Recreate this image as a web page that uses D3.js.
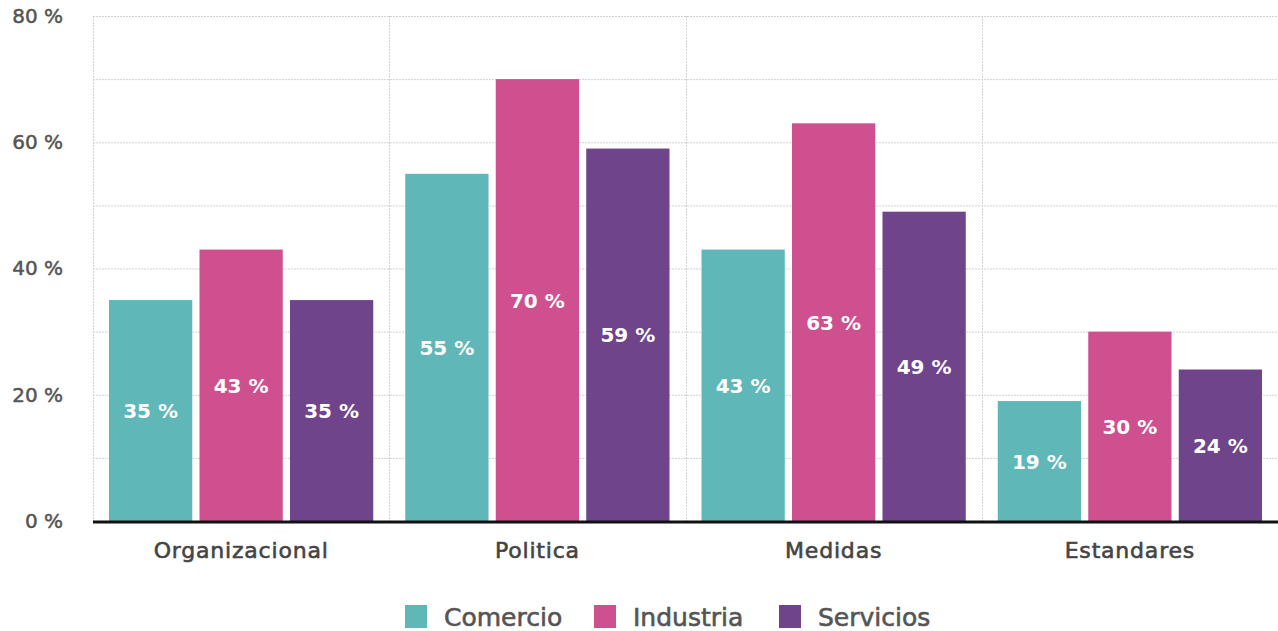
<!DOCTYPE html>
<html>
<head>
<meta charset="utf-8">
<script src="https://cdn.jsdelivr.net/npm/d3@7"></script>
<style>
  html, body { margin: 0; padding: 0; background: #fff; }
  svg { display: block; font-family: "DejaVu Sans", sans-serif; }
</style>
</head>
<body>
<svg id="chart" width="1278" height="631"></svg>
<script>
// Categories, series and values (percent)
const categories = ["Organizacional", "Politica", "Medidas", "Estandares"];
const seriesNames = ["Comercio", "Industria", "Servicios"];
const comercio = [35, 55, 43, 19];
const industria = [43, 70, 63, 30];
const servicios = [35, 59, 49, 24];
const yTicks = [0, 20, 40, 60, 80];
const yGrid = [10, 20, 30, 40, 50, 60, 70, 80];
const colors = ["#60b7b8", "#cf508f", "#70448b"];

const seriesValues = [comercio, industria, servicios];
const rows = categories.map((c, i) => ({
  category: c,
  values: seriesNames.map((s, j) => ({ series: s, value: seriesValues[j][i] }))
}));

const svg = d3.select("#chart");
const margin = { top: 16, right: 0, bottom: 110, left: 93 };
const W = 1278, H = 631;
const innerW = W - margin.left - margin.right;
const innerH = H - margin.top - margin.bottom;

const g = svg.append("g").attr("transform", `translate(${margin.left},${margin.top})`);

const x0 = d3.scaleBand().domain(categories).range([0, innerW]).paddingInner(0).paddingOuter(0);
const x1 = d3.scaleBand().domain(seriesNames).range([16, x0.bandwidth() - 16]).paddingInner(0.08);
const y = d3.scaleLinear().domain([0, 80]).range([innerH, 0]);
const color = d3.scaleOrdinal().domain(seriesNames).range(colors);

// Horizontal dotted grid
g.append("g").selectAll("line").data(yGrid).join("line")
  .attr("x1", 0).attr("x2", innerW)
  .attr("y1", d => y(d) + 0.5).attr("y2", d => y(d) + 0.5)
  .attr("stroke", "#d2d2d2").attr("stroke-width", 1).attr("stroke-dasharray", "2,1");

// Vertical dotted grid at category boundaries
g.append("g").selectAll("line").data(categories).join("line")
  .attr("x1", d => Math.round(x0(d)) + 0.5).attr("x2", d => Math.round(x0(d)) + 0.5)
  .attr("y1", 0).attr("y2", innerH)
  .attr("stroke", "#d2d2d2").attr("stroke-width", 1).attr("stroke-dasharray", "2,1");

// Y axis tick labels
const yAxis = d3.axisLeft(y).tickValues(yTicks).tickSize(0).tickPadding(30).tickFormat(d => d + " %");
g.append("g").call(yAxis)
  .call(s => s.select(".domain").remove())
  .selectAll("text")
  .attr("fill", "#555").attr("stroke", "#555").attr("stroke-width", 0.5)
  .attr("font-family", "DejaVu Sans").attr("font-size", 20);

// Bars
const groups = g.append("g").selectAll("g").data(rows).join("g")
  .attr("transform", d => `translate(${x0(d.category)},0)`);

groups.selectAll("rect").data(d => d.values).join("rect")
  .attr("x", d => x1(d.series))
  .attr("width", x1.bandwidth())
  .attr("y", d => y(d.value))
  .attr("height", d => y(0) - y(d.value))
  .attr("fill", d => color(d.series));

// Value labels centred in each bar
groups.selectAll("text").data(d => d.values).join("text")
  .attr("x", d => x1(d.series) + x1.bandwidth() / 2)
  .attr("y", d => (y(d.value) + y(0)) / 2)
  .attr("dy", "0.38em")
  .attr("text-anchor", "middle")
  .attr("fill", "#fff").attr("font-size", 20).attr("font-weight", 700)
  .text(d => d.value + " %");

// Baseline
g.append("line")
  .attr("x1", 0).attr("x2", innerW)
  .attr("y1", y(0) + 1).attr("y2", y(0) + 1)
  .attr("stroke", "#111").attr("stroke-width", 3);

// Category axis labels
const xAxis = d3.axisBottom(x0).tickSize(0).tickPadding(21);
g.append("g").attr("transform", `translate(0,${innerH})`).call(xAxis)
  .call(s => s.select(".domain").remove())
  .selectAll("text")
  .attr("fill", "#444").attr("stroke", "#444").attr("stroke-width", 0.6)
  .attr("font-family", "DejaVu Sans").attr("font-size", 22)
  .attr("letter-spacing", "0.8px");

// Legend
const legendItems = [
  { name: "Comercio", x: 405 },
  { name: "Industria", x: 594 },
  { name: "Servicios", x: 779 }
];
const legend = svg.append("g");
const li = legend.selectAll("g").data(legendItems).join("g")
  .attr("transform", d => `translate(${d.x},605)`);
li.append("rect").attr("width", 22).attr("height", 23).attr("fill", d => color(d.name));
li.append("text").attr("x", 39).attr("y", 21)
  .attr("fill", "#555").attr("stroke", "#555").attr("stroke-width", 0.6)
  .attr("font-size", 25)
  .text(d => d.name);
</script>
</body>
</html>
